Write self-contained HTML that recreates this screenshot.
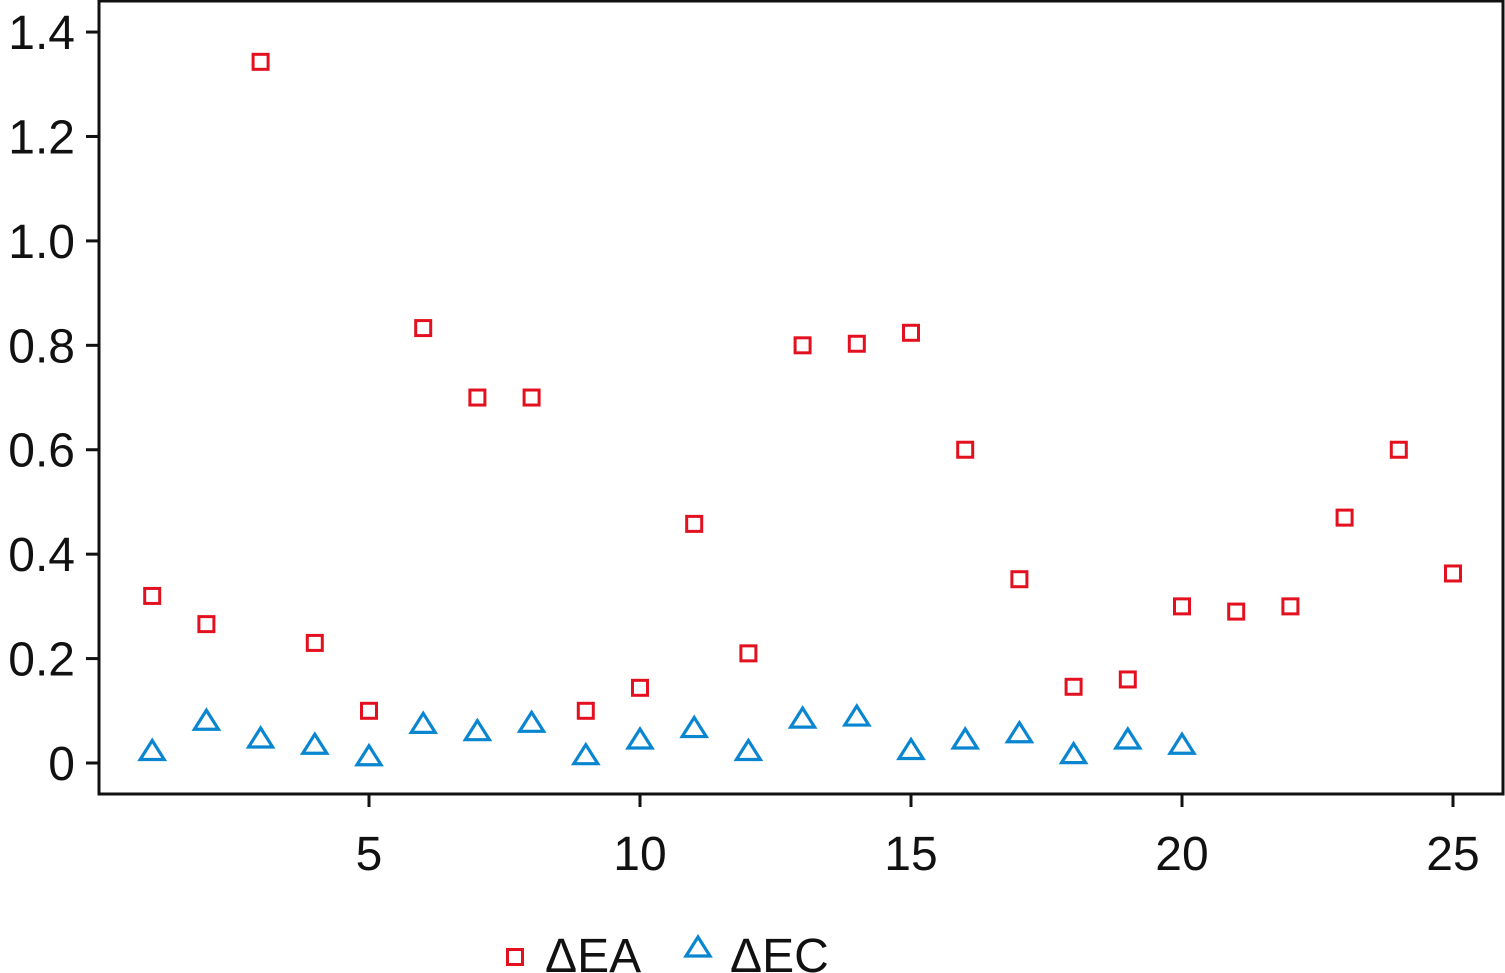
<!DOCTYPE html>
<html><head><meta charset="utf-8"><style>
html,body{margin:0;padding:0;background:#fff;width:1505px;height:973px;overflow:hidden}
svg text{font-family:"Liberation Sans",sans-serif;fill:#111}
</style></head><body>
<svg id="chart" width="1505" height="973" viewBox="0 0 1505 973" xmlns="http://www.w3.org/2000/svg"></svg>
<script>
const xValuesEA = [1,2,3,4,5,6,7,8,9,10,11,12,13,14,15,16,17,18,19,20,21,22,23,24,25];
const seriesEA = [0.32,0.266,1.343,0.23,0.10,0.833,0.70,0.70,0.10,0.144,0.458,0.21,0.80,0.803,0.824,0.60,0.352,0.146,0.16,0.30,0.29,0.30,0.47,0.60,0.363];
const xValuesEC = [1,2,3,4,5,6,7,8,9,10,11,12,13,14,15,16,17,18,19,20];
const seriesEC = [0.022,0.08,0.046,0.034,0.012,0.074,0.06,0.076,0.014,0.044,0.066,0.022,0.084,0.088,0.024,0.044,0.056,0.016,0.044,0.034];
const yTicks = [0,0.2,0.4,0.6,0.8,1.0,1.2,1.4];
const yTickLabels = ["0","0.2","0.4","0.6","0.8","1.0","1.2","1.4"];
const xTicks = [5,10,15,20,25];
const xTickLabels = ["5","10","15","20","25"];

const NS="http://www.w3.org/2000/svg";
const svg=document.getElementById('chart');
const L=99,R=1503,T=1,B=794;
function xs(v){return 369+(v-5)*54.2;}
function ys(v){return 763-v*522.1;}
function mk(tag,attrs,parent){const e=document.createElementNS(NS,tag);for(const k in attrs)e.setAttribute(k,attrs[k]);(parent||svg).appendChild(e);return e;}

const frame=mk('rect',{x:L,y:T,width:R-L,height:B-T,fill:'none',stroke:'#111','stroke-width':3});



yTicks.forEach((v,i)=>{
  const y=ys(v);
  const t=mk('line',{x1:L-13,x2:L,y1:y,y2:y,stroke:'#111','stroke-width':3});
  
  
  const tx=mk('text',{x:L-24,y:y+17,'text-anchor':'end','font-size':48});
  tx.textContent=yTickLabels[i];
  
  
});
xTicks.forEach((v,i)=>{
  const x=xs(v);
  const t=mk('line',{x1:x,x2:x,y1:B,y2:B+13,stroke:'#111','stroke-width':3});
  
  
  const tx=mk('text',{x:x,y:870,'text-anchor':'middle','font-size':48});
  tx.textContent=xTickLabels[i];
  
  
});

const red='#e3101f', blue='#0a86d0';
function square(cx,cy){
  return mk('rect',{x:cx-7.5,y:cy-7.5,width:15,height:15,fill:'none',stroke:red,'stroke-width':3});
}
function tri(cx,cy){
  return mk('polygon',{points:`${cx},${cy-11} ${cx+12},${cy+8} ${cx-12},${cy+8}`,fill:'none',stroke:blue,'stroke-width':3.2,'stroke-linejoin':'miter'});
}
seriesEA.forEach((v,i)=>{
  const s=square(xs(xValuesEA[i]),ys(v));
  
  
});
seriesEC.forEach((v,i)=>{
  const p=tri(xs(xValuesEC[i]),ys(v));
  
  
});

const ls=square(515,957);


const lt1=mk('text',{x:545,y:972,'font-size':48});
lt1.textContent='ΔEA';


const lt=tri(698,948);


const lt2=mk('text',{x:730,y:972,'font-size':48});
lt2.textContent='ΔEC';


</script>
</body></html>
